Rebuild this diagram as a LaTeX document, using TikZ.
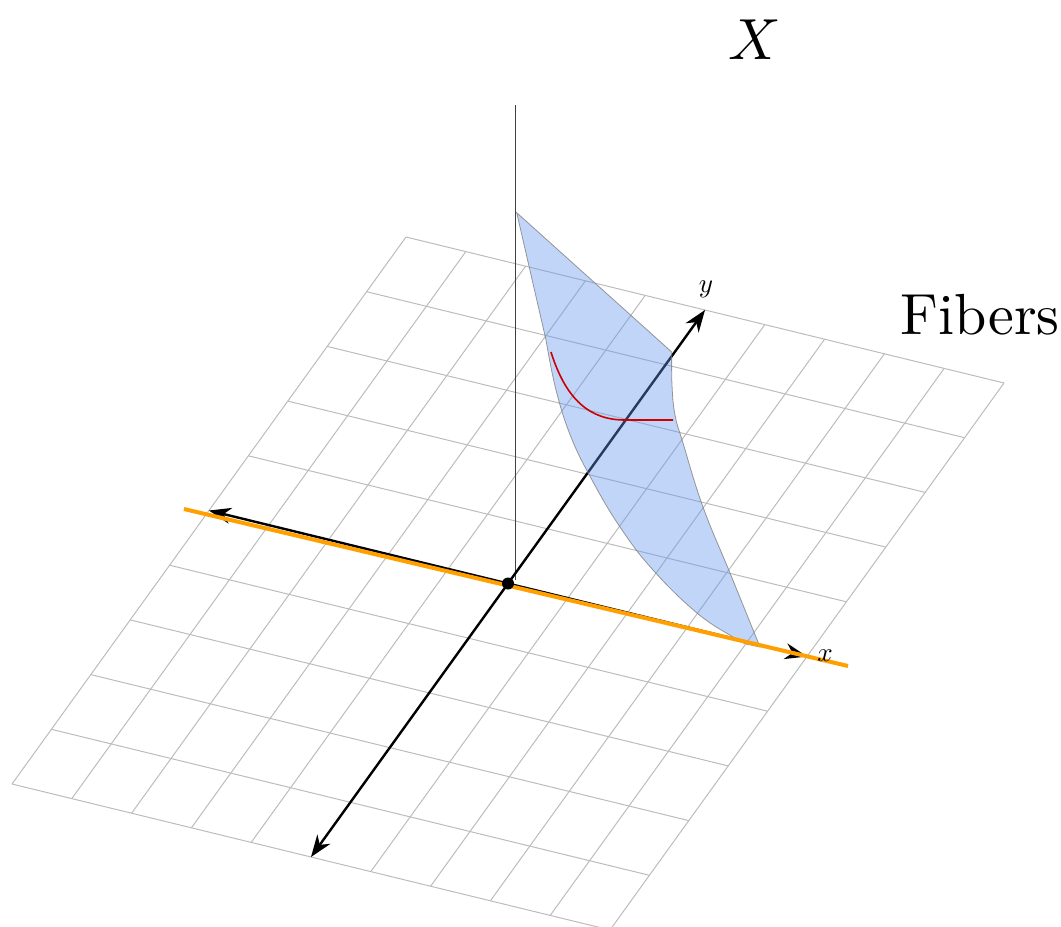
\documentclass[tikz,border=0pt]{standalone}
\usetikzlibrary{arrows.meta}
\definecolor{gridgray}{RGB}{188,188,188}
\definecolor{surfblue}{RGB}{100,149,237}
\definecolor{axisorange}{RGB}{255,160,0}
\definecolor{curvered}{RGB}{204,0,0}
\tikzset{
  gridline/.style={draw=gridgray, line width=1pt},
  axisline/.style={draw=black, line width=2.4pt, {Stealth[length=22pt,width=16pt,inset=7pt]}-{Stealth[length=22pt,width=16pt,inset=7pt]}},
  zline/.style={draw=black!75, line width=1pt},
  surface/.style={fill=surfblue, fill opacity=0.4, draw=gray, draw opacity=0.8, line width=0.8pt},
  fibercurve/.style={draw=curvered, line width=1.6pt},
  orangeline/.style={draw=axisorange, line width=4pt},
  axislabel/.style={scale=2.7, inner sep=0pt},
  biglabel/.style={scale=5.8, inner sep=0pt}
}
\begin{document}
\begin{tikzpicture}[x=1pt,y=-1pt]
\useasboundingbox (0,0) rectangle (1061,927);
\coordinate (O) at (508,583.5);
\begin{scope}[shift={(O)}, x={(59.8pt,-14.6pt)}, y={(39.4pt,54.7pt)}]
  \foreach \i in {-5,...,5} {
    \draw[gridline] (\i,-5) -- (\i,5);
    \draw[gridline] (-5,\i) -- (5,\i);
  }
  \coordinate (xneg) at (-5,0);
  \coordinate (xpos) at (5,0);
  \coordinate (yneg) at (0,-5);
  \coordinate (ypos) at (0,5);
\end{scope}
% vertical axis
\coordinate (ztop) at (515.5,105);
\coordinate (zbot) at (515.5,580);
\draw[zline] (zbot) -- (ztop);
% axes
\draw[axisline] (xneg) -- (xpos);
\draw[axisline] (yneg) -- (ypos);
% surface
\draw[surface]
  (516.7,212.7) -- (671.7,352)
  -- plot[smooth, tension=0.7] coordinates {(671.7,352) (672,385) (675,415) (683,443) (703,507) (730,573) (760,647)}
  -- (746,644)
  -- plot[smooth, tension=0.7] coordinates {(746,644) (733,637) (697,613) (653,570) (620,527) (592,480) (571,437) (556,390) (546,340)}
  -- cycle;
% red fiber curve
\draw[fibercurve] (551,352) .. controls (566,400) and (590,420) .. (625,420) -- (673,420);
% orange line
\coordinate (oleft) at (184,509);
\coordinate (oright) at (848,666);
\draw[orangeline] (oleft) -- (oright);
% origin dot
\fill[black] (O) circle (6pt);
% labels
\node[axislabel] (lx) at (825,656) {$x$};
\node[axislabel] (ly) at (706,289) {$y$};
\node[biglabel] (lX) at (755,40) {$X$};
\node[biglabel] (lF) at (980,315) {Fibers};
\end{tikzpicture}
\end{document}
